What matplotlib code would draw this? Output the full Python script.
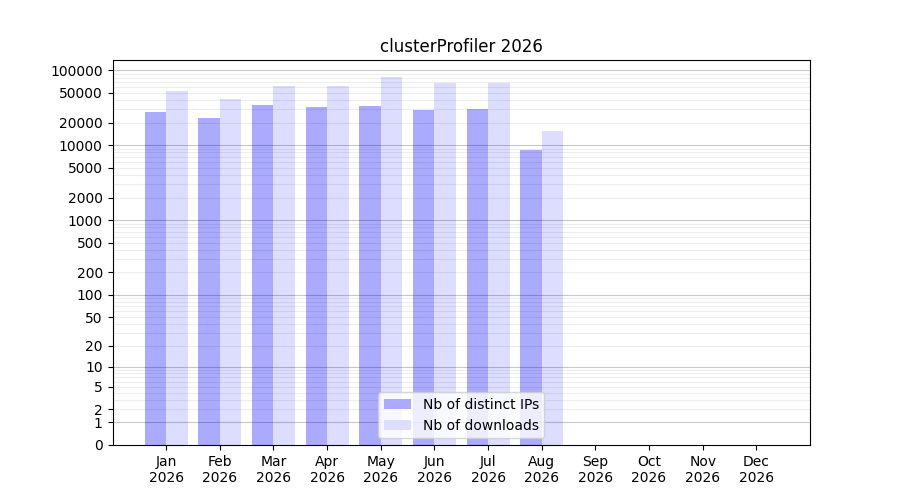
import numpy as np
import matplotlib
matplotlib.use('Agg')
import matplotlib.pyplot as plt

months = ['Jan', 'Feb', 'Mar', 'Apr', 'May', 'Jun', 'Jul', 'Aug', 'Sep', 'Oct', 'Nov', 'Dec']
year = 2026
nb_ips = [27800, 23100, 34500, 32400, 33400, 29500, 30500, 8650, 0, 0, 0, 0]
nb_downloads = [53000, 41400, 61800, 62000, 81400, 67700, 68000, 15500, 0, 0, 0, 0]

ytick_vals = [0, 1, 2, 5, 10, 20, 50, 100, 200, 500, 1000, 2000, 5000,
              10000, 20000, 50000, 100000]


def fwd(y):
    return np.log10(1 + np.clip(y, 0, None))


def inv(y):
    return 10 ** y - 1


fig, ax = plt.subplots(figsize=(9, 5), dpi=100)
ax.set_yscale('function', functions=(fwd, inv))

x = np.arange(1, 13)
w = 0.4
ax.bar(x - w, nb_ips, width=w, align='edge', color='#aaaaff', label='Nb of distinct IPs')
ax.bar(x, nb_downloads, width=w, align='edge', color='#ddddff', label='Nb of downloads')

# grid: darker at decades, light at intermediate values
for d in [1, 10, 100, 1000, 10000, 100000]:
    ax.axhline(d, color='black', alpha=0.22, lw=0.8, zorder=1.5)
    for k in range(2, 10):
        if k * d < 140000:
            ax.axhline(k * d, color='black', alpha=0.07, lw=0.8, zorder=1.5)

ax.set_xlim(0, 13)
ax.set_ylim(0, 137000)
ax.set_xticks(x)
ax.set_xticklabels([f'{m}\n{year}' for m in months])
ax.set_yticks(ytick_vals)
ax.set_yticklabels([str(v) for v in ytick_vals])
ax.yaxis.set_minor_locator(matplotlib.ticker.NullLocator())
ax.set_title(f'clusterProfiler {year}')
ax.legend(loc='lower center')

plt.savefig('out.png')
